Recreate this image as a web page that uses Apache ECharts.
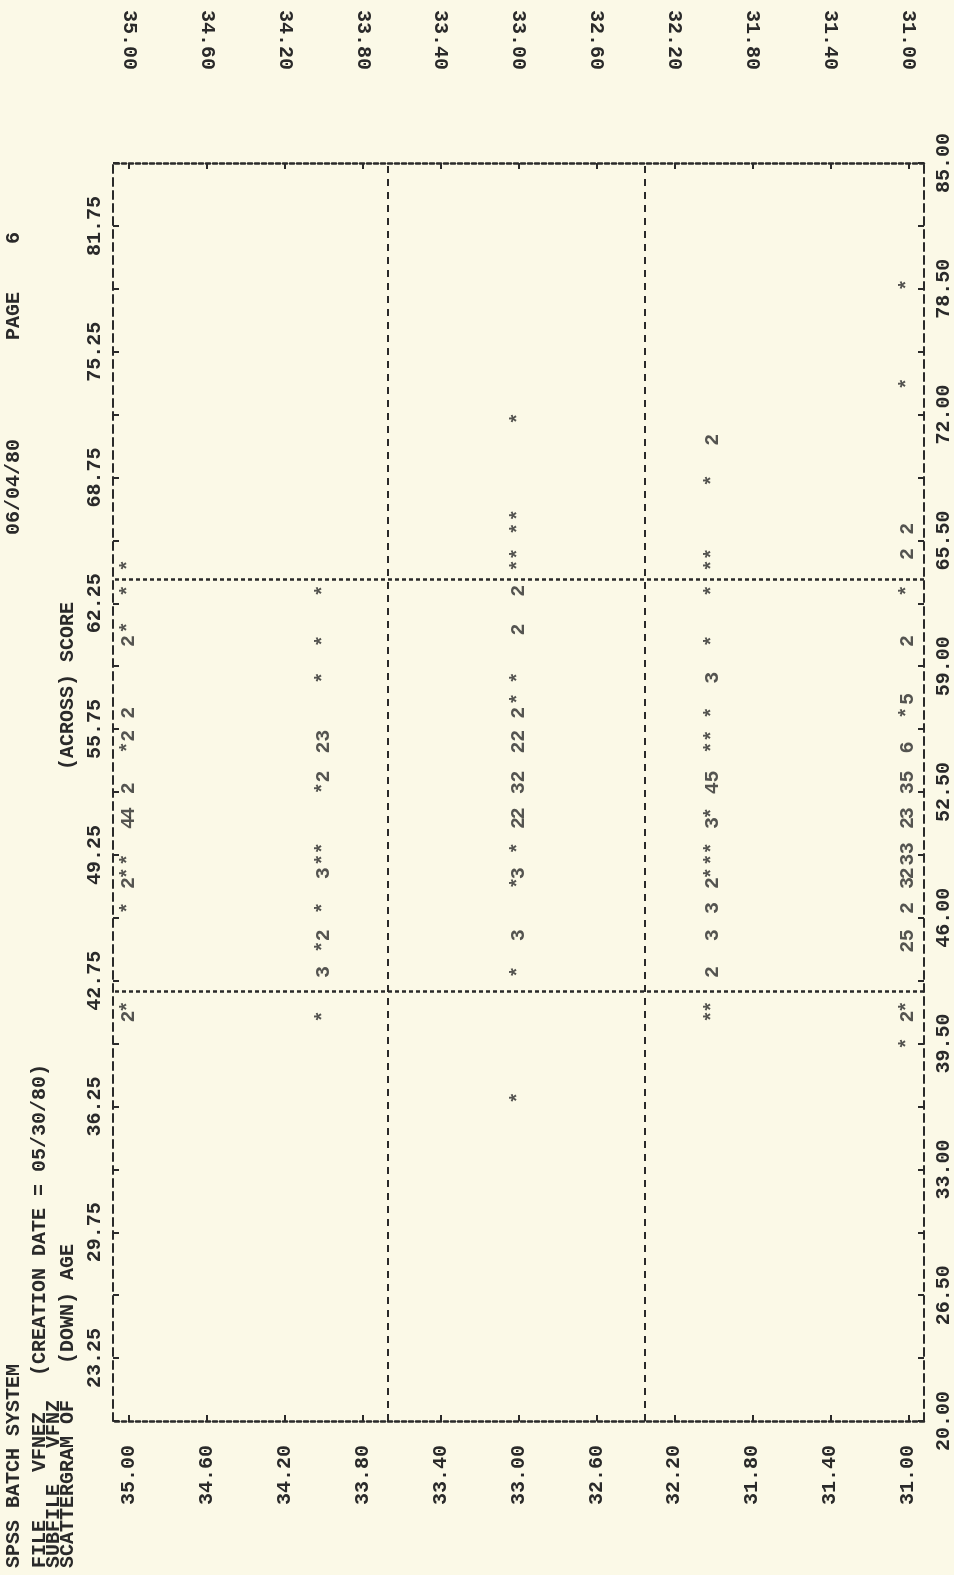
<!DOCTYPE html>
<html>
<head>
<meta charset="utf-8">
<title>SPSS scattergram - AGE by SCORE</title>
<script src="https://cdn.jsdelivr.net/npm/echarts@6/dist/echarts.min.js"></script>
<style>
  html, body { margin: 0; padding: 0; background: #fbf9e7; }
  #chart { width: 954px; height: 1575px; }
</style>
</head>
<body>
<div id="chart"></div>
<script>
// (DOWN) AGE tick labels, printed along both long edges of the page
var ageTicks = [35.0, 34.6, 34.2, 33.8, 33.4, 33.0, 32.6, 32.2, 31.8, 31.4, 31.0]
// (ACROSS) SCORE tick labels
var scoreTicks = [20.0, 26.5, 33.0, 39.5, 46.0, 52.5, 59.0, 65.5, 72.0, 78.5, 85.0]
var scoreMidTicks = [23.25, 29.75, 36.25, 42.75, 49.25, 55.75, 62.25, 68.75, 75.25, 81.75]

// one printed row per age: '*' = one case, a digit = that many cases
var score35 = [40.9, 41.4, 46.5, 47.8, 48.3, 49.0, 50.9, 51.4, 52.7, 54.8, 55.4, 56.6, 60.3, 61.0, 62.9, 64.2]
var mark35 = ['2', '*', '*', '2', '*', '*', '4', '4', '2', '*', '2', '2', '2', '*', '*', '*']

var score34 = [40.9, 43.2, 44.5, 45.1, 46.5, 48.3, 49.0, 49.6, 52.7, 53.3, 54.8, 55.4, 58.4, 60.3, 62.9]
var mark34 = ['*', '3', '*', '2', '*', '3', '*', '*', '*', '2', '2', '3', '*', '*', '*']

var score33 = [36.7, 43.2, 45.1, 47.8, 48.3, 49.6, 50.9, 51.4, 52.7, 53.3, 54.8, 55.4, 56.6, 57.3, 58.4, 60.9, 62.9, 64.2, 64.8, 66.1, 66.8, 71.8]
var mark33 = ['*', '*', '3', '*', '3', '*', '2', '2', '3', '2', '2', '2', '2', '*', '*', '2', '2', '*', '*', '*', '*', '*']

var score32 = [40.9, 41.4, 43.2, 45.1, 46.5, 47.8, 48.3, 49.0, 49.6, 50.9, 51.4, 52.7, 53.3, 54.8, 55.4, 56.6, 58.4, 60.3, 62.9, 64.2, 64.8, 68.6, 70.7]
var mark32 = ['*', '*', '2', '3', '3', '2', '*', '*', '*', '3', '*', '4', '5', '*', '*', '*', '3', '*', '*', '*', '*', '*', '2']

var score31 = [39.5, 40.9, 41.4, 44.5, 45.1, 46.5, 47.8, 48.3, 49.0, 49.6, 50.9, 51.4, 52.7, 53.3, 54.8, 56.6, 57.3, 60.3, 62.9, 64.8, 66.1, 73.6, 78.7]
var mark31 = ['*', '2', '*', '2', '5', '2', '3', '2', '3', '3', '2', '3', '3', '5', '6', '*', '5', '2', '*', '2', '2', '*', '*']

var ink = '#2a2a2a'
var mono = '"Liberation Mono", "DejaVu Sans Mono", monospace'

function rowData(age, scores, marks) {
  return scores.map(function(s, i) { return [age, s, marks[i]] })
}

var points = []
  .concat(rowData(35, score35, mark35))
  .concat(rowData(34, score34, mark34))
  .concat(rowData(33, score33, mark33))
  .concat(rowData(32, score32, mark32))
  .concat(rowData(31, score31, mark31))

// '+' marks sit on every label and half way between them
var scoreAllTicks = scoreTicks.concat(scoreMidTicks).sort(function(a, b) { return a - b })

function fmt(v) { return Number(v).toFixed(2) }

function headerText(x, y, text) {
  return {
    type: 'text',
    x: x,
    y: y,
    rotation: Math.PI / 2,
    silent: true,
    style: {
      text: text,
      font: 'bold 20px ' + mono,
      fill: ink,
      textAlign: 'left',
      verticalAlign: 'middle',
      textVerticalAlign: 'middle'
    }
  }
}

function ageAxis(position, margin) {
  return {
    type: 'value',
    position: position,
    min: 30.92,
    max: 35.08,
    inverse: true,
    axisLine: { show: true, onZero: false, lineStyle: { color: ink, width: 2.5, type: [4, 3] } },
    axisTick: { show: true, customValues: ageTicks, inside: true, length: 6, lineStyle: { color: ink, width: 2 } },
    axisLabel: {
      customValues: ageTicks,
      rotate: 90,
      margin: margin,
      formatter: fmt,
      color: ink,
      fontFamily: mono,
      fontSize: 20,
      fontWeight: 'bold'
    },
    splitLine: { show: false }
  }
}

function scoreAxis(position, labels, margin) {
  return {
    type: 'value',
    position: position,
    min: 20,
    max: 85,
    axisLine: { show: true, onZero: false, lineStyle: { color: ink, width: 2, type: [8, 5] } },
    axisTick: { show: true, customValues: scoreAllTicks, inside: true, length: 6, lineStyle: { color: ink, width: 2 } },
    axisLabel: {
      customValues: labels,
      rotate: 90,
      margin: margin,
      formatter: fmt,
      color: ink,
      fontFamily: mono,
      fontSize: 20,
      fontWeight: 'bold'
    },
    splitLine: { show: false }
  }
}

var chart = echarts.init(document.getElementById('chart'))
chart.setOption({
  backgroundColor: '#fbf9e7',
  animation: false,
  grid: { left: 113, right: 29, top: 163, bottom: 154 },
  xAxis: [ageAxis('bottom', 24), ageAxis('top', 93)],
  yAxis: [scoreAxis('right', scoreTicks, 10), scoreAxis('left', scoreMidTicks, 8)],
  graphic: [
    headerText(14, 1568, 'SPSS BATCH SYSTEM'),
    headerText(14, 535, '06/04/80'),
    headerText(14, 340, 'PAGE    6'),
    headerText(40, 1568, 'FILE    VFNEZ   (CREATION DATE = 05/30/80)'),
    headerText(54, 1568, 'SUBFILE   VFNZ'),
    headerText(68, 1568, 'SCATTERGRAM OF   (DOWN) AGE'),
    headerText(68, 770, '(ACROSS) SCORE')
  ],
  series: [{
    type: 'scatter',
    xAxisIndex: 0,
    yAxisIndex: 0,
    data: points,
    symbolSize: 1,
    itemStyle: { color: 'rgba(0,0,0,0)' },
    label: {
      show: true,
      position: 'inside',
      rotate: 90,
      formatter: function(p) { return p.data[2] },
      color: ink,
      fontFamily: mono,
      fontSize: 20,
      fontWeight: 'bold'
    },
    markLine: {
      silent: true,
      symbol: 'none',
      label: { show: false },
      data: [
        { xAxis: 33.67, lineStyle: { color: ink, width: 2, type: [7, 6] } },
        { xAxis: 32.35, lineStyle: { color: ink, width: 2, type: [7, 6] } },
        { yAxis: 42.2, lineStyle: { color: ink, width: 2.5, type: [4, 3] } },
        { yAxis: 63.5, lineStyle: { color: ink, width: 2.5, type: [4, 3] } }
      ]
    }
  }]
})
</script>
</body>
</html>
